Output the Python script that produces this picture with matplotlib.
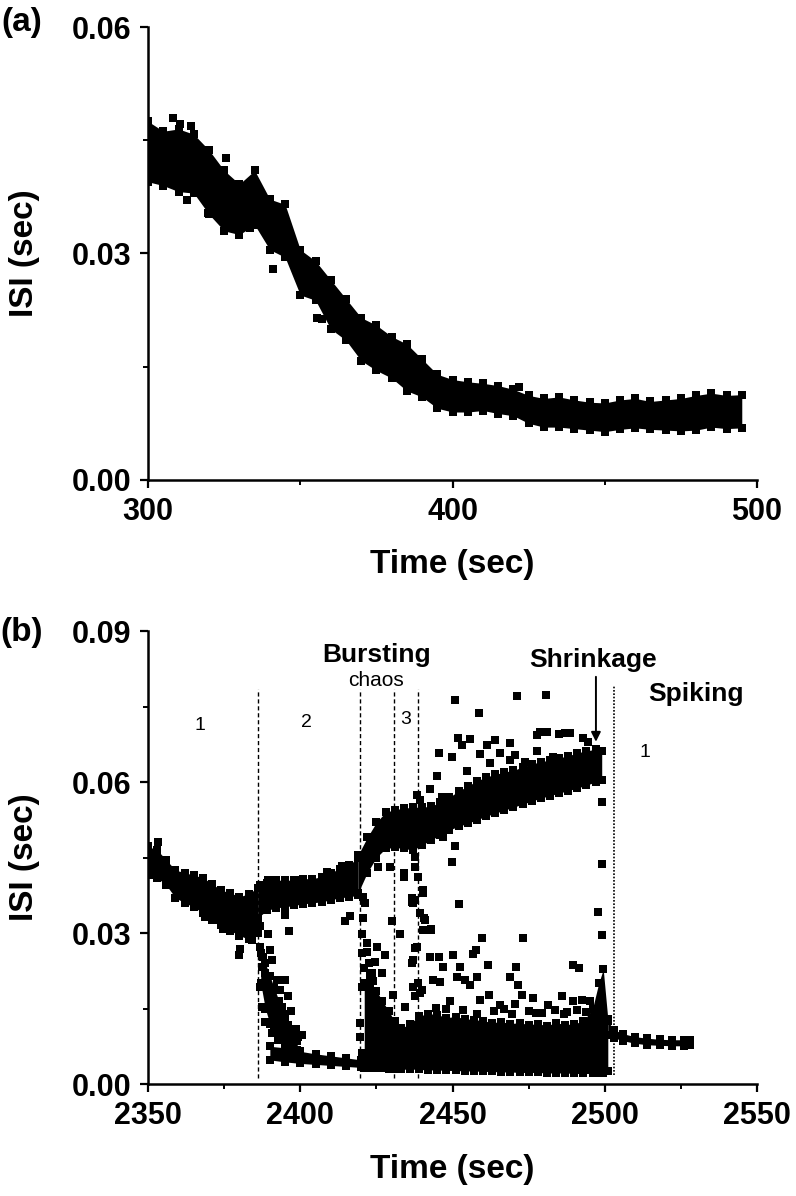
import matplotlib
matplotlib.use("Agg")
import matplotlib.pyplot as plt
from matplotlib.ticker import MultipleLocator, FormatStrFormatter

plt.rcParams['font.family'] = ['Liberation Sans', 'DejaVu Sans']

# ---------------- panel (a): ISI band, envelope ----------------
a_time = [300, 305, 310, 315, 320, 325, 330, 335, 340, 345, 350, 355, 360, 365, 370,
          375, 380, 385, 390, 395, 400, 405, 410, 415, 420, 425, 430, 435, 440, 445,
          450, 455, 460, 465, 470, 475, 480, 485, 490, 495]
a_upper = [0.0475, 0.0462, 0.0465, 0.0458, 0.0437, 0.0410, 0.0392, 0.0410, 0.0372, 0.0365,
           0.0305, 0.0290, 0.0265, 0.0240, 0.0215, 0.0205, 0.0190, 0.0180, 0.0160, 0.0140,
           0.0133, 0.0130, 0.0128, 0.0125, 0.0120, 0.0112, 0.0108, 0.0110, 0.0106, 0.0103,
           0.0102, 0.0106, 0.0108, 0.0104, 0.0106, 0.0108, 0.0112, 0.0115, 0.0112, 0.0113]
a_lower = [0.0395, 0.0390, 0.0382, 0.0380, 0.0352, 0.0330, 0.0325, 0.0338, 0.0305, 0.0295,
           0.0245, 0.0238, 0.0200, 0.0185, 0.0158, 0.0145, 0.0135, 0.0118, 0.0110, 0.0095,
           0.0090, 0.0090, 0.0092, 0.0088, 0.0085, 0.0075, 0.0070, 0.0070, 0.0068, 0.0066,
           0.0064, 0.0067, 0.0069, 0.0067, 0.0066, 0.0065, 0.0066, 0.0070, 0.0068, 0.0069]
a_out_t = [308.3, 310.5, 314.0, 325.6, 312.7, 319.7, 333.5, 341.2, 355.6, 357.0, 421.8]
a_out_isi = [0.0479, 0.0472, 0.0469, 0.0427, 0.0371, 0.0354, 0.0334, 0.0280, 0.0214, 0.0213, 0.0123]

# ---------------- panel (b): bands (envelopes) ----------------
r1_time = [2350, 2353, 2356, 2359, 2362, 2365, 2368, 2371, 2374, 2377, 2380, 2383, 2386]
r1_upper = [0.0472, 0.0465, 0.0445, 0.0425, 0.0420, 0.0415, 0.0410, 0.0398, 0.0385, 0.0380, 0.0372, 0.0378, 0.0390]
r1_lower = [0.0425, 0.0410, 0.0395, 0.0370, 0.0360, 0.0352, 0.0340, 0.0326, 0.0315, 0.0305, 0.0295, 0.0288, 0.0300]

r2_time = [2386, 2389, 2392, 2395, 2398, 2401, 2404, 2407, 2410, 2413, 2416, 2419]
r2_upper = [0.0390, 0.0400, 0.0405, 0.0405, 0.0405, 0.0408, 0.0408, 0.0412, 0.0420, 0.0428, 0.0435, 0.0450]
r2_lower = [0.0330, 0.0345, 0.0350, 0.0352, 0.0355, 0.0358, 0.0360, 0.0362, 0.0366, 0.0370, 0.0372, 0.0375]

burst_time = [2419, 2422, 2425, 2428, 2431, 2434, 2437, 2440, 2443, 2446, 2449, 2452, 2455, 2458,
              2461, 2464, 2467, 2470, 2473, 2476, 2479, 2482, 2485, 2488, 2491, 2494, 2497, 2499]
burst_upper = [0.0455, 0.0490, 0.0520, 0.0540, 0.0545, 0.0548, 0.0550, 0.0550, 0.0552, 0.0560,
               0.0570, 0.0582, 0.0592, 0.0602, 0.0610, 0.0615, 0.0620, 0.0623, 0.0630, 0.0636,
               0.0640, 0.0644, 0.0648, 0.0652, 0.0658, 0.0662, 0.0665, 0.0662]
burst_lower = [0.0380, 0.0420, 0.0450, 0.0468, 0.0470, 0.0468, 0.0465, 0.0475, 0.0485, 0.0495,
               0.0505, 0.0512, 0.0518, 0.0525, 0.0532, 0.0538, 0.0544, 0.0550, 0.0556, 0.0562,
               0.0568, 0.0573, 0.0578, 0.0583, 0.0588, 0.0594, 0.0600, 0.0605]

drop_time = [2387, 2388.5, 2390, 2391.5, 2393, 2394.5, 2396, 2397.5, 2399]
drop_upper = [0.0260, 0.0240, 0.0215, 0.0190, 0.0165, 0.0140, 0.0118, 0.0100, 0.0085]
drop_lower = [0.0200, 0.0150, 0.0120, 0.0105, 0.0095, 0.0088, 0.0080, 0.0074, 0.0068]

base_time = [2390, 2395, 2400, 2405, 2410, 2415, 2420]
base_upper = [0.0075, 0.0072, 0.0065, 0.0060, 0.0056, 0.0052, 0.0048]
base_lower = [0.0048, 0.0044, 0.0041, 0.0039, 0.0037, 0.0035, 0.0033]

tri_time = [2421, 2423, 2425, 2427, 2429, 2431, 2433, 2436]
tri_upper = [0.0200, 0.0200, 0.0185, 0.0165, 0.0145, 0.0125, 0.0112, 0.0105]
tri_lower = [0.0032, 0.0032, 0.0031, 0.0031, 0.0030, 0.0030, 0.0030, 0.0030]

dense_time = [2433, 2436, 2439, 2442, 2445, 2448, 2451, 2454, 2457, 2460, 2463, 2466, 2469,
              2472, 2475, 2478, 2481, 2484, 2487, 2490, 2493, 2496, 2498, 2499.5, 2501]
dense_upper = [0.0110, 0.0120, 0.0135, 0.0140, 0.0138, 0.0132, 0.0134, 0.0130, 0.0128, 0.0126,
               0.0122, 0.0124, 0.0120, 0.0122, 0.0118, 0.0120, 0.0116, 0.0122, 0.0118, 0.0120,
               0.0125, 0.0150, 0.0200, 0.0228, 0.0130]
dense_lower = [0.0030, 0.0030, 0.0029, 0.0028, 0.0028, 0.0027, 0.0027, 0.0026, 0.0026, 0.0025,
               0.0025, 0.0024, 0.0024, 0.0023, 0.0023, 0.0023, 0.0022, 0.0022, 0.0022, 0.0021,
               0.0021, 0.0021, 0.0021, 0.0021, 0.0025]

spike_time = [2501, 2503, 2506, 2510, 2514, 2518, 2522, 2526, 2528]
spike_upper = [0.0125, 0.0108, 0.0100, 0.0094, 0.0091, 0.0089, 0.0088, 0.0088, 0.0087]
spike_lower = [0.0098, 0.0092, 0.0086, 0.0081, 0.0078, 0.0077, 0.0076, 0.0076, 0.0077]

# scattered points of panel (b)
b_pts_t = [2353.4, 2351.2, 2353.9, 2368.7, 2372.0, 2374.7, 2380.2, 2380.0, 2384.0, 2396.4,
           2395.0, 2386.8, 2389.5, 2414.7, 2416.3, 2408.7, 2413.6, 2399.9,
           # drop cloud
           2386.8, 2387.3, 2386.8, 2388.4, 2390.1, 2390.6, 2389.5, 2392.3, 2393.4, 2395.0,
           2396.1, 2393.9, 2395.0, 2397.7, 2399.4, 2391.7, 2387.3, 2388.4, 2390.6, 2392.8,
           2386.8, 2389.5, 2387.9, 2398.5, 2400.5, 2396.8,
           # burst triangle
           2420.2, 2420.2, 2421.8, 2423.5, 2425.1, 2424.5, 2425.6, 2427.8, 2430.0, 2432.2,
           2420.2, 2419.6, 2419.6, 2420.2, 2426.7, 2425.6, 2429.5, 2430.0, 2432.8, 2436.6,
           2437.1, 2430.6, 2433.9, 2424.5, 2427.8, 2420.7, 2421.3, 2422.5, 2421.0, 2423.0,
           2422.0, 2420.5, 2424.0,
           # around 2438 line
           2438.2, 2439.3, 2438.8, 2437.7, 2438.8, 2440.4, 2437.7, 2439.3, 2441.0, 2438.2,
           2436.6, 2438.8, 2439.9, 2437.7,
           # top outliers
           2450.8, 2471.1, 2480.6, 2458.8,
           # above main burst band
           2445.4, 2451.9, 2455.7, 2453.0, 2449.7, 2461.2, 2464.0, 2468.9, 2459.0, 2465.6,
           2470.5, 2477.6, 2478.7, 2480.9, 2485.1, 2487.0, 2488.6, 2493.0, 2494.6, 2477.6,
           2483.1, 2444.8, 2442.6, 2446.4, 2454.7, 2462.3, 2468.9, 2473.8,
           # below main burst band
           2447.0, 2450.8, 2449.7, 2452.2, 2433.9, 2432.8, 2437.7, 2437.1, 2440.4, 2440.6,
           2442.8, 2437.7, 2437.1,
           # shrinkage fall
           2499.2, 2499.0, 2497.9, 2499.2,
           # mid scatter above the dense region
           2459.8, 2473.3, 2457.7, 2442.6, 2445.7, 2450.0, 2447.0, 2452.5, 2461.5, 2470.8,
           2489.7, 2491.7, 2468.9, 2458.2, 2451.4, 2454.1, 2455.8, 2445.9, 2443.7, 2471.6,
           2472.7, 2462.1, 2459.0, 2485.9, 2481.5, 2476.5, 2489.7, 2492.4, 2495.2, 2449.2,
           2465.6, 2470.5, 2439.3, 2434.4, 2437.1, 2456.8, 2440.4, 2442.8, 2436.6, 2440.4,
           2448.0, 2453.5, 2463.5, 2467.0, 2475.0, 2479.5, 2483.5, 2487.5, 2491.0, 2494.0,
           2444.5, 2458.0, 2469.5, 2477.5, 2486.5]
b_pts_isi = [0.0480, 0.0415, 0.0412, 0.0332, 0.0326, 0.0309, 0.0268, 0.0256, 0.0286, 0.0304,
             0.0336, 0.0395, 0.0405, 0.0323, 0.0333, 0.0422, 0.0433, 0.0405,
             0.0273, 0.0233, 0.0193, 0.0220, 0.0266, 0.0246, 0.0180, 0.0207, 0.0187, 0.0207,
             0.0174, 0.0154, 0.0134, 0.0101, 0.0094, 0.0134, 0.0154, 0.0124, 0.0101, 0.0087,
             0.0313, 0.0299, 0.0253, 0.0110, 0.0098, 0.0145,
             0.0299, 0.0260, 0.0280, 0.0220, 0.0273, 0.0180, 0.0154, 0.0134, 0.0107, 0.0094,
             0.0193, 0.0121, 0.0094, 0.0061, 0.0220, 0.0432, 0.0432, 0.0323, 0.0299, 0.0362,
             0.0246, 0.0177, 0.0412, 0.0243, 0.0256, 0.0372, 0.0359, 0.0240, 0.0230, 0.0215,
             0.0262, 0.0330, 0.0205,
             0.0574, 0.0564, 0.0485, 0.0452, 0.0412, 0.0385, 0.0366, 0.0339, 0.0326, 0.0273,
             0.0240, 0.0200, 0.0187, 0.0174,
             0.0762, 0.0771, 0.0773, 0.0737,
             0.0657, 0.0687, 0.0685, 0.0674, 0.0650, 0.0674, 0.0684, 0.0678, 0.0656, 0.0657,
             0.0654, 0.0693, 0.0700, 0.0699, 0.0695, 0.0697, 0.0697, 0.0687, 0.0680, 0.0662,
             0.0650, 0.0611, 0.0587, 0.0571, 0.0621, 0.0637, 0.0644, 0.0640,
             0.0491, 0.0472, 0.0442, 0.0358, 0.0419, 0.0299, 0.0432, 0.0359, 0.0385, 0.0329,
             0.0307, 0.0270, 0.0246,
             0.0561, 0.0437, 0.0342, 0.0296,
             0.0291, 0.0291, 0.0266, 0.0253, 0.0253, 0.0256, 0.0233, 0.0233, 0.0236, 0.0233,
             0.0236, 0.0230, 0.0213, 0.0213, 0.0213, 0.0207, 0.0197, 0.0203, 0.0207, 0.0197,
             0.0177, 0.0177, 0.0167, 0.0175, 0.0157, 0.0170, 0.0164, 0.0167, 0.0164, 0.0164,
             0.0157, 0.0160, 0.0180, 0.0154, 0.0193, 0.0258, 0.0306, 0.0308, 0.0369, 0.0379,
             0.0150, 0.0148, 0.0145, 0.0150, 0.0146, 0.0142, 0.0148, 0.0144, 0.0147, 0.0143,
             0.0152, 0.0140, 0.0139, 0.0141, 0.0140]

dashed_t = [2386.2, 2419.6, 2430.9, 2438.6]
dotted_t = 2503.1

MS = 5.5


def draw_band(ax, t, lo, hi):
    """Banda densa: preenchimento + quadrados nas bordas."""
    ax.fill_between(t, lo, hi, color='k', lw=0)
    ax.plot(t, hi, 's', ms=MS, color='k', mew=0)
    ax.plot(t, lo, 's', ms=MS, color='k', mew=0)


def style_axes(ax):
    for s in ['top', 'right']:
        ax.spines[s].set_visible(False)
    for s in ['left', 'bottom']:
        ax.spines[s].set_linewidth(1.8)
    ax.tick_params(which='major', direction='out', length=6, width=1.6,
                   labelsize=22, pad=6)
    ax.tick_params(which='minor', direction='out', length=3.5, width=1.4)
    for lab in ax.get_xticklabels() + ax.get_yticklabels():
        lab.set_fontweight('bold')
    ax.yaxis.set_major_formatter(FormatStrFormatter('%.2f'))
    ax.set_xlabel('Time (sec)', fontsize=24, fontweight='bold')
    ax.set_ylabel('ISI (sec)', fontsize=24, fontweight='bold')
    ax.xaxis.label.set_va('center')
    ax.yaxis.label.set_va('center')


fig = plt.figure(figsize=(7.96, 11.96), dpi=100)

# ---- (a)
ax1 = fig.add_axes([0.186, 0.5987, 0.765, 0.3787])
draw_band(ax1, a_time, a_lower, a_upper)
ax1.plot(a_out_t, a_out_isi, 's', ms=MS, color='k', mew=0)
ax1.set_xlim(300, 500)
ax1.set_ylim(0, 0.06)
ax1.xaxis.set_major_locator(MultipleLocator(100))
ax1.xaxis.set_minor_locator(MultipleLocator(50))
ax1.yaxis.set_major_locator(MultipleLocator(0.03))
ax1.yaxis.set_minor_locator(MultipleLocator(0.015))
style_axes(ax1)
ax1.xaxis.set_label_coords(0.5, -85 / 453)
ax1.yaxis.set_label_coords(-124 / 609, 0.5)

# ---- (b)
ax2 = fig.add_axes([0.186, 0.0936, 0.765, 0.3788])
for t, lo, hi in [(r1_time, r1_lower, r1_upper), (r2_time, r2_lower, r2_upper),
                  (burst_time, burst_lower, burst_upper), (drop_time, drop_lower, drop_upper),
                  (base_time, base_lower, base_upper), (tri_time, tri_lower, tri_upper),
                  (dense_time, dense_lower, dense_upper), (spike_time, spike_lower, spike_upper)]:
    draw_band(ax2, t, lo, hi)
ax2.plot(b_pts_t, b_pts_isi, 's', ms=MS, color='k', mew=0)

for t in dashed_t:
    ax2.plot([t, t], [0.0013, 0.0785], color='k', lw=1.0, ls=(0, (3, 2)))
ax2.plot([dotted_t, dotted_t], [0.0018, 0.0791], color='k', lw=1.2, ls=(0, (1, 1)))

ax2.set_xlim(2350, 2550)
ax2.set_ylim(0, 0.09)
ax2.xaxis.set_major_locator(MultipleLocator(50))
ax2.xaxis.set_minor_locator(MultipleLocator(25))
ax2.yaxis.set_major_locator(MultipleLocator(0.03))
ax2.yaxis.set_minor_locator(MultipleLocator(0.015))
style_axes(ax2)
ax2.xaxis.set_label_coords(0.5, -85 / 453)
ax2.yaxis.set_label_coords(-124 / 609, 0.5)

# anotações
ax2.text(2424.9, 0.0839, 'Bursting', fontsize=19, fontweight='bold', ha='center', va='baseline')
ax2.text(2425.0, 0.0791, 'chaos', fontsize=15, ha='center', va='baseline')
ax2.text(2496.0, 0.0829, 'Shrinkage', fontsize=19, fontweight='bold', ha='center', va='baseline')
ax2.text(2530.0, 0.0760, 'Spiking', fontsize=19, fontweight='bold', ha='center', va='baseline')
ax2.text(2367.2, 0.0703, '1', fontsize=14, ha='center', va='baseline')
ax2.text(2402.1, 0.0709, '2', fontsize=14, ha='center', va='baseline')
ax2.text(2434.5, 0.0715, '3', fontsize=14, ha='center', va='baseline')
ax2.text(2513.1, 0.0650, '1', fontsize=14, ha='center', va='baseline')
ax2.annotate('', xy=(2497.1, 0.0680), xytext=(2497.1, 0.0809),
             arrowprops=dict(arrowstyle='-|>', color='k', lw=1.4, mutation_scale=14,
                             shrinkA=0, shrinkB=0))

fig.text(22 / 796, 1 - 22 / 1196, '(a)', fontsize=24, fontweight='bold', ha='center', va='center')
fig.text(22 / 796, 1 - 633 / 1196, '(b)', fontsize=24, fontweight='bold', ha='center', va='center')

fig.savefig('out.png', dpi=100)
